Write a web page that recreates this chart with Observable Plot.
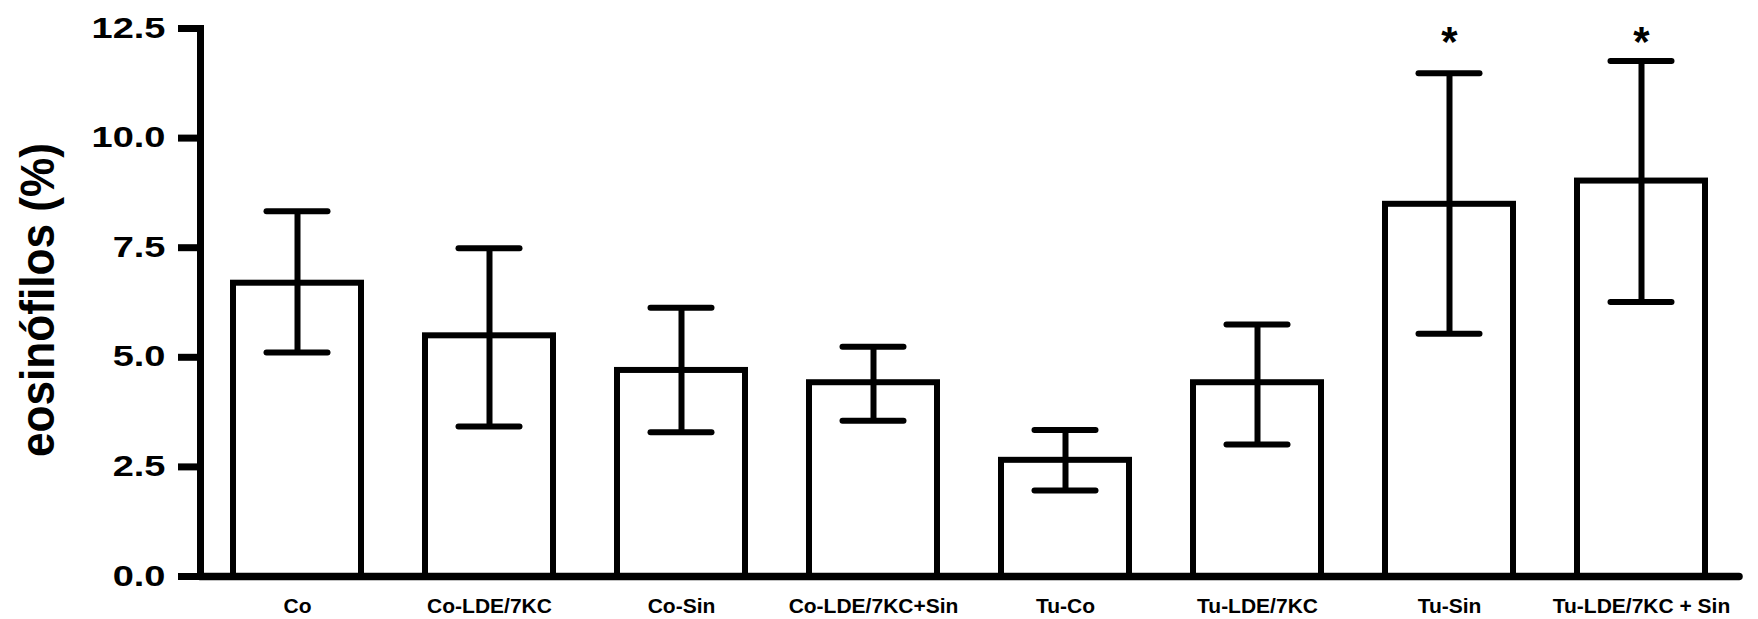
<!DOCTYPE html>
<html><head><meta charset="utf-8">
<script src="https://cdn.jsdelivr.net/npm/d3@7"></script>
<script src="https://cdn.jsdelivr.net/npm/@observablehq/plot@0.6"></script>
<style>body{margin:0;background:#fff}</style>
</head><body><div id="chart"></div>
<script>
const categories = ["Co", "Co-LDE/7KC", "Co-Sin", "Co-LDE/7KC+Sin", "Tu-Co", "Tu-LDE/7KC", "Tu-Sin", "Tu-LDE/7KC + Sin"];
const means = [6.69, 5.49, 4.70, 4.42, 2.65, 4.42, 8.49, 9.02];
const upper = [8.33, 7.49, 6.13, 5.24, 3.34, 5.75, 11.48, 11.76];
const lower = [5.11, 3.42, 3.29, 3.55, 1.96, 3.01, 5.54, 6.26];
const significant = ["Tu-Sin", "Tu-LDE/7KC + Sin"];
const yTicks = [0, 2.5, 5, 7.5, 10, 12.5];
const yLabel = "eosinófilos (%)";

const table = categories.map((c, i) => ({group: c, mean: means[i], lo: lower[i], hi: upper[i]}));
const font = "'Liberation Sans', Arial, Helvetica, sans-serif";

const plot = Plot.plot({
  width: 1758, height: 619,
  marginLeft: 200, marginRight: 19, marginTop: 28, marginBottom: 43,
  style: {fontFamily: font, fontWeight: "bold", background: "white", color: "black"},
  x: {domain: categories, paddingInner: 0.332, paddingOuter: 0.154, align: 0.5},
  y: {domain: [0, 12.5]},
  marks: [
    Plot.barY(table, {x: "group", y: "mean", fill: "white", stroke: "black", strokeWidth: 6}),
    Plot.ruleX(table, {x: "group", y1: "lo", y2: "hi", stroke: "black", strokeWidth: 6}),
    Plot.tickY(table, {x: "group", y: "hi", stroke: "black", strokeWidth: 6, strokeLinecap: "round", insetLeft: 33.5, insetRight: 33.5}),
    Plot.tickY(table, {x: "group", y: "lo", stroke: "black", strokeWidth: 6, strokeLinecap: "round", insetLeft: 33.5, insetRight: 33.5}),
    Plot.text(significant, {x: d => d, text: () => "*", frameAnchor: "top", lineAnchor: "bottom", dy: 27.5, fontSize: 42, fontWeight: "bold", fill: "black"}),
    Plot.text([yLabel], {text: d => d, frameAnchor: "left", textAnchor: "middle", rotate: -90, lineAnchor: "top", dx: -181, dy: -2.5, fontSize: 48, fontWeight: "bold", fill: "black"}),
    Plot.axisY({ticks: yTicks, tickFormat: d3.format(".1f"), tickSize: 22, tickPadding: 13, strokeWidth: 7, fontSize: 38, label: null}),
    Plot.axisX({tickSize: 0, tickPadding: 22, fontSize: 21, label: null}),
    Plot.frame({anchor: "left", strokeWidth: 7}),
    Plot.ruleY([0], {strokeWidth: 7.5, strokeLinecap: "round"})
  ]
});
document.getElementById("chart").append(plot);

function squash(el, sx, sy) {
  const b = el.getBBox();
  const cx = b.x + b.width / 2, cy = b.y + b.height / 2;
  const t = el.getAttribute("transform") || "";
  el.setAttribute("transform", `${t} translate(${cx},${cy}) scale(${sx},${sy}) translate(${-cx},${-cy})`);
}
d3.select(plot).selectAll('g[aria-label="y-axis tick label"] text').each(function() { squash(this, 1, 0.77); });
d3.select(plot).selectAll("text").filter(function() { return this.textContent === yLabel; }).each(function() { squash(this, 0.92, 1); });
</script>
</body></html>
